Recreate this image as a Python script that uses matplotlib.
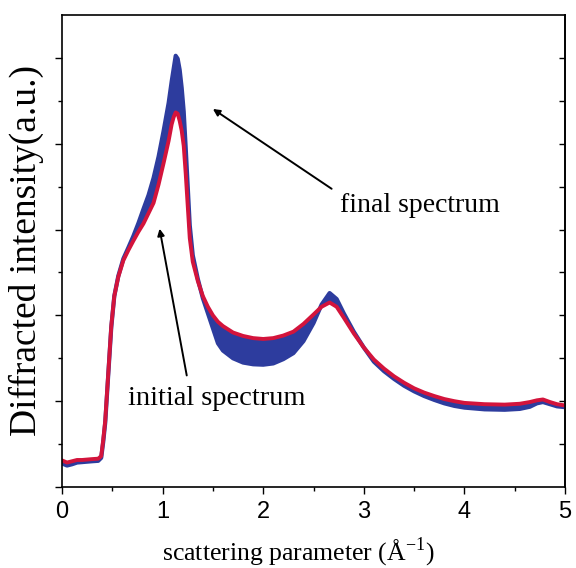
import numpy as np
import matplotlib
matplotlib.use("Agg")
import matplotlib.pyplot as plt
from matplotlib.ticker import MultipleLocator, FixedLocator, NullFormatter

plt.rcParams["mathtext.fontset"] = "custom"
plt.rcParams["mathtext.rm"] = "Liberation Serif"

# ── data (scattering parameter in 1/Å, intensity a.u.) ──
q = [0.00, 0.05, 0.10, 0.15, 0.20, 0.25, 0.30, 0.36, 0.39, 0.41,
     0.43, 0.46, 0.49, 0.52, 0.56, 0.61, 0.66, 0.71, 0.76, 0.81,
     0.86, 0.91, 0.96, 1.01, 1.06, 1.09, 1.11, 1.13, 1.15, 1.17,
     1.19, 1.21, 1.23, 1.25, 1.27, 1.30, 1.35, 1.40, 1.45, 1.50,
     1.55, 1.60, 1.70, 1.80, 1.90, 2.00, 2.10, 2.20, 2.30, 2.40,
     2.50, 2.58, 2.66, 2.73, 2.80, 2.90, 3.00, 3.10, 3.20, 3.30,
     3.40, 3.50, 3.60, 3.70, 3.80, 3.90, 4.00, 4.20, 4.40, 4.55,
     4.65, 4.72, 4.78, 4.85, 4.92, 5.00]

initial = [0.62, 0.57, 0.60, 0.63, 0.63, 0.64, 0.65, 0.66, 0.72, 1.10,
           1.55, 2.65, 3.75, 4.45, 4.90, 5.28, 5.52, 5.74, 5.95, 6.14,
           6.38, 6.62, 7.05, 7.55, 8.07, 8.45, 8.62, 8.73, 8.70, 8.53,
           8.30, 7.95, 7.30, 6.55, 5.80, 5.25, 4.80, 4.45, 4.20, 4.00,
           3.85, 3.75, 3.60, 3.52, 3.47, 3.45, 3.47, 3.53, 3.62, 3.80,
           4.02, 4.20, 4.30, 4.20, 3.95, 3.58, 3.25, 2.97, 2.76, 2.58,
           2.43, 2.30, 2.20, 2.12, 2.05, 2.00, 1.96, 1.93, 1.92, 1.94,
           1.98, 2.02, 2.04, 1.98, 1.93, 1.90]

final = [0.55, 0.50, 0.53, 0.57, 0.58, 0.59, 0.60, 0.61, 0.68, 1.05,
         1.50, 2.62, 3.72, 4.45, 4.92, 5.32, 5.58, 5.85, 6.15, 6.48,
         6.80, 7.20, 7.70, 8.30, 8.95, 9.45, 9.75, 10.05, 9.98, 9.72,
         9.30, 8.75, 7.90, 7.00, 6.10, 5.40, 4.85, 4.40, 4.05, 3.70,
         3.35, 3.18, 3.00, 2.90, 2.86, 2.85, 2.88, 2.98, 3.12, 3.40,
         3.82, 4.25, 4.52, 4.38, 4.05, 3.62, 3.25, 2.92, 2.70, 2.52,
         2.36, 2.23, 2.12, 2.03, 1.95, 1.89, 1.85, 1.81, 1.80, 1.82,
         1.87, 1.95, 1.98, 1.93, 1.88, 1.86]

BLUE = "#2d3c9e"
RED = "#d3143c"

fig = plt.figure(figsize=(5.76, 5.68), dpi=100)
ax = fig.add_axes([0.1076, 0.1426, 0.8734, 0.831])

# blue band: all intermediate spectra between initial and final
ax.fill_between(q, initial, final, color=BLUE, lw=0)
ax.plot(q, final, color=BLUE, lw=3.0, solid_capstyle="round")
ax.plot(q, initial, color=RED, lw=2.8, solid_capstyle="round")

ax.set_xlim(0, 5)
ax.set_ylim(0, 11)

# ── ticks ───────────────────────────────────────────────────────────
ax.xaxis.set_major_locator(MultipleLocator(1))
ax.xaxis.set_minor_locator(MultipleLocator(0.5))
ax.yaxis.set_major_locator(MultipleLocator(2))
ax.yaxis.set_minor_locator(FixedLocator([1, 3, 5, 7, 9]))
ax.yaxis.set_major_formatter(NullFormatter())
ax.tick_params(axis="x", which="major", direction="out", length=5, width=1,
               labelsize=17, pad=5)
ax.tick_params(axis="x", which="minor", direction="out", length=3, width=1)
ax.tick_params(axis="y", which="major", direction="out", length=5, width=1)
ax.tick_params(axis="y", which="minor", direction="out", length=3, width=1)
for lab in ax.get_xticklabels():
    lab.set_family("Liberation Sans")
for sp in ax.spines.values():
    sp.set_linewidth(1.2)

# right side: inward ticks, no labels
sec = ax.secondary_yaxis("right")
sec.yaxis.set_major_locator(FixedLocator(range(1, 11)))
sec.yaxis.set_major_formatter(NullFormatter())
sec.tick_params(direction="in", length=4, width=1)
sec.spines["right"].set_linewidth(1.2)

# ── labels ──────────────────────────────────────────────────────────
ax.set_xlabel(r"scattering parameter (Å$^{\mathregular{-1}}$)",
              family="Liberation Serif", fontsize=18.5)
ax.xaxis.set_label_coords(0.47, -0.102)
ax.set_ylabel("Diffracted intensity(a.u.)", family="Liberation Serif",
              fontsize=27)
ax.yaxis.set_label_coords(-0.035, 0.50)

# ── annotations ─────────────────────────────────────────────────────
arrow = dict(arrowstyle="-|>", color="black", lw=1.4, mutation_scale=10,
             shrinkA=0, shrinkB=0)
ax.annotate("", xy=(1.50, 8.81), xytext=(2.68, 6.95), arrowprops=arrow)
ax.annotate("", xy=(0.97, 6.02), xytext=(1.24, 2.60), arrowprops=arrow)
ax.text(2.76, 6.56, "final spectrum", family="Liberation Serif",
        fontsize=20, va="center", ha="left")
ax.text(0.66, 2.07, "initial spectrum", family="Liberation Serif",
        fontsize=20.5, va="center", ha="left")

fig.savefig("out.png", dpi=100)
